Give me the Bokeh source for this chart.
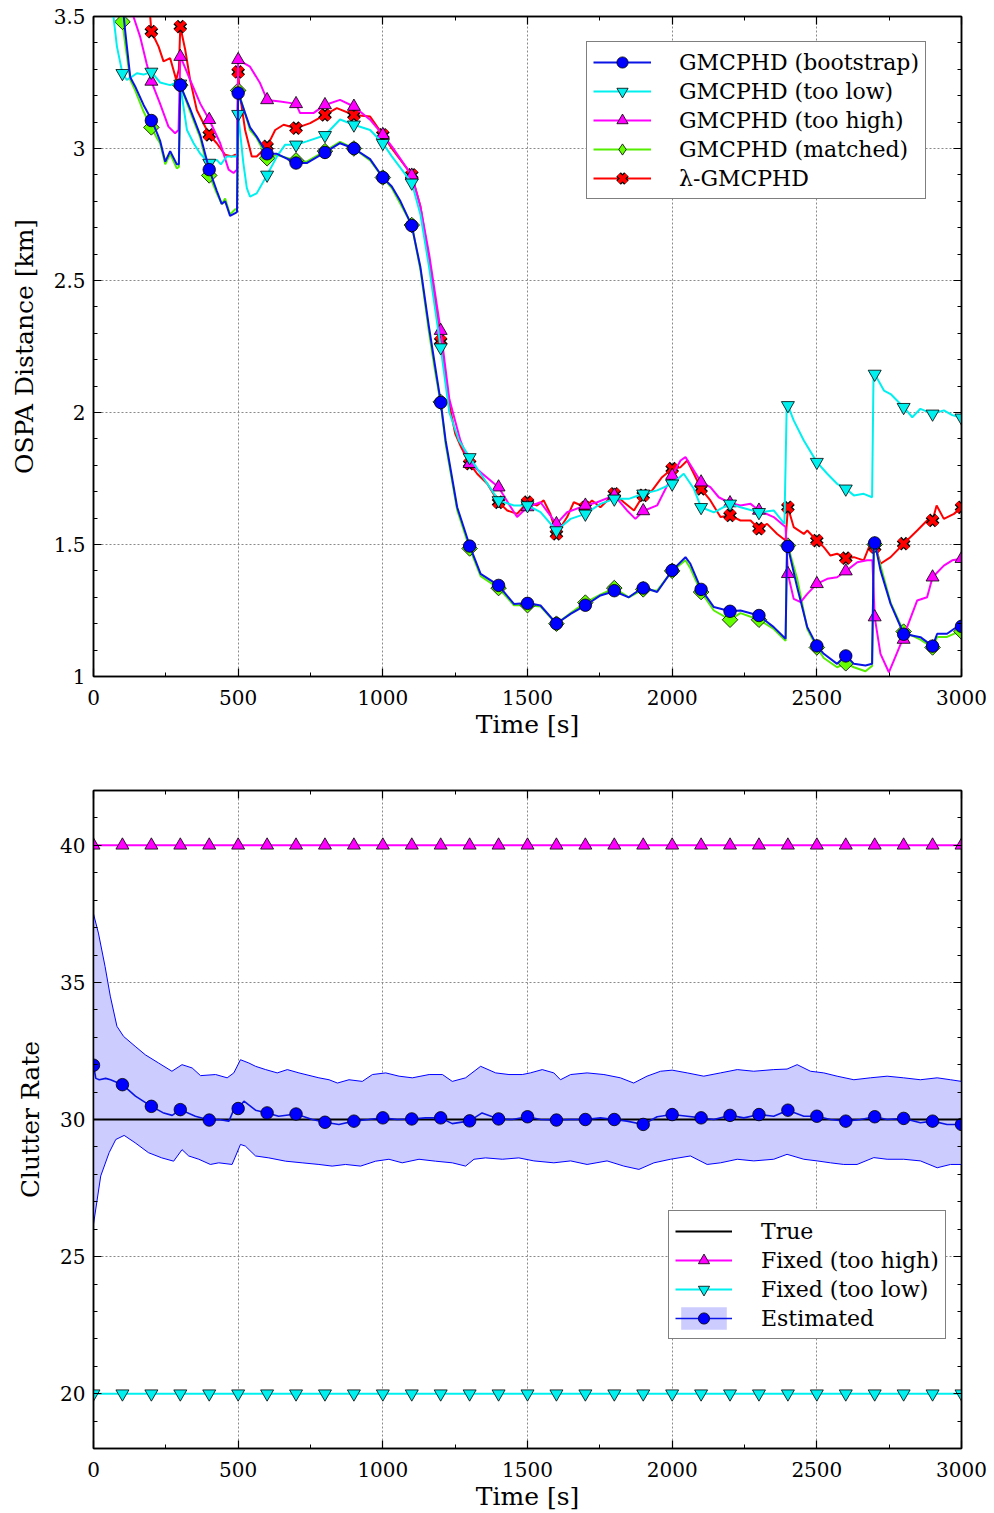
from bokeh.plotting import figure
from bokeh.layouts import column
from bokeh.models import (Range1d, LinearAxis, SingleIntervalTicker, Legend, LegendItem,
                          CustomJSTickFormatter, CustomLabelingPolicy, ColumnDataSource,
                          CDSView, IndexFilter)
from bokeh.embed import file_html
from bokeh.resources import INLINE

FONT = "DejaVu Serif"

# ---------------- top chart data: OSPA distance [km] ----------------
mark_t = [0, 100, 200, 300, 400, 500, 600, 700, 800, 900, 1000, 1100, 1200, 1300, 1400, 1500,
          1600, 1700, 1800, 1900, 2000, 2100, 2200, 2300, 2400, 2500, 2600, 2700, 2800, 2900, 3000]

boot_t = [0, 60, 100, 109, 127, 144, 173, 200, 219, 230, 248, 265, 288, 295, 300, 334, 369, 400,
          426, 443, 455, 472, 490, 496, 500, 541, 564, 600, 634, 700, 737, 800, 852, 900, 956, 1000,
          1031, 1061, 1100, 1130, 1160, 1180, 1200, 1217, 1257, 1300, 1338, 1400, 1453, 1500, 1545,
          1600, 1649, 1700, 1752, 1800, 1850, 1900, 1948, 2000, 2046, 2063, 2100, 2144, 2200, 2236,
          2300, 2351, 2392, 2397, 2400, 2432, 2467, 2500, 2524, 2570, 2600, 2628, 2668, 2691, 2697,
          2700, 2720, 2755, 2800, 2858, 2900, 2916, 2950, 2991, 3000]
boot_v = [4.2, 3.9, 3.55, 3.45, 3.27, 3.235, 3.165, 3.11, 3.06, 3.03, 2.95, 2.99, 2.94, 2.94, 3.24,
          3.15, 3.05, 2.92, 2.84, 2.79, 2.80, 2.745, 2.755, 2.76, 3.21, 3.08, 3.045, 2.98, 2.98,
          2.945, 2.945, 2.985, 3.02, 3.0, 2.96, 2.89, 2.856, 2.80, 2.708, 2.55, 2.32, 2.18, 2.04,
          1.894, 1.641, 1.496, 1.389, 1.345, 1.275, 1.278, 1.269, 1.2, 1.237, 1.269, 1.307, 1.323,
          1.30, 1.338, 1.32, 1.402, 1.452, 1.427, 1.331, 1.263, 1.247, 1.25, 1.231, 1.187, 1.143,
          1.49, 1.49, 1.338, 1.187, 1.117, 1.086, 1.048, 1.08, 1.048, 1.042, 1.048, 1.5, 1.509,
          1.402, 1.275, 1.162, 1.149, 1.115, 1.162, 1.162, 1.193, 1.2]
boot_m = [4.2, 3.6, 3.106, 3.24, 2.92, 3.21, 2.98, 2.945, 2.985, 3.0, 2.89, 2.708, 2.038, 1.494,
          1.345, 1.277, 1.2, 1.27, 1.325, 1.335, 1.402, 1.33, 1.247, 1.231, 1.493, 1.116, 1.078,
          1.506, 1.16, 1.115, 1.19]

match_t = boot_t
match_v = [4.1, 3.75, 3.48, 3.40, 3.26, 3.22, 3.14, 3.08, 3.04, 3.02, 2.94, 2.98, 2.925, 2.93, 3.24,
           3.14, 3.04, 2.90, 2.83, 2.79, 2.81, 2.75, 2.77, 2.77, 3.22, 3.07, 3.04, 2.965, 2.975,
           2.955, 2.95, 2.99, 3.025, 3.0, 2.955, 2.89, 2.85, 2.79, 2.71, 2.54, 2.30, 2.16, 2.035,
           1.88, 1.63, 1.485, 1.38, 1.335, 1.27, 1.27, 1.265, 1.2, 1.24, 1.28, 1.31, 1.335, 1.30,
           1.33, 1.325, 1.40, 1.44, 1.41, 1.32, 1.25, 1.215, 1.24, 1.215, 1.18, 1.135, 1.49, 1.495,
           1.37, 1.18, 1.11, 1.07, 1.035, 1.05, 1.035, 1.02, 1.04, 1.49, 1.50, 1.42, 1.28, 1.17,
           1.14, 1.11, 1.15, 1.15, 1.17, 1.17]
match_m = [4.1, 3.48, 3.08, 3.24, 2.898, 3.22, 2.963, 2.955, 2.99, 3.0, 2.89, 2.71, 2.04, 1.485,
           1.335, 1.27, 1.2, 1.28, 1.335, 1.33, 1.40, 1.32, 1.215, 1.215, 1.496, 1.11, 1.05, 1.50,
           1.17, 1.11, 1.17]

low_t = [0, 40, 69, 81, 100, 115, 130, 150, 173, 200, 230, 265, 288, 300, 323, 346, 369, 400, 426,
         440, 461, 484, 496, 500, 518, 530, 541, 564, 600, 634, 662, 700, 737, 800, 852, 900, 956,
         1000, 1031, 1100, 1130, 1160, 1200, 1230, 1263, 1300, 1338, 1400, 1453, 1500, 1545, 1600,
         1649, 1700, 1752, 1800, 1850, 1900, 1948, 2000, 2040, 2075, 2100, 2144, 2200, 2236, 2300,
         2351, 2388, 2396, 2400, 2420, 2455, 2500, 2536, 2570, 2600, 2628, 2662, 2691, 2696, 2700,
         2732, 2755, 2800, 2830, 2858, 2900, 2939, 2968, 3000]
low_v = [3.9, 3.7, 3.5, 3.386, 3.285, 3.26, 3.27, 3.285, 3.28, 3.29, 3.25, 3.24, 3.25, 3.24, 3.07,
         3.02, 2.98, 2.945, 2.957, 2.94, 2.97, 2.97, 2.97, 3.13, 2.944, 2.85, 2.818, 2.83, 2.90,
         2.97, 3.014, 3.014, 3.027, 3.05, 3.11, 3.09, 3.07, 3.02, 2.97, 2.87, 2.75, 2.55, 2.246,
         2.0, 1.894, 1.83, 1.768, 1.667, 1.648, 1.648, 1.623, 1.553, 1.597, 1.616, 1.654, 1.673,
         1.673, 1.692, 1.705, 1.73, 1.768, 1.711, 1.641, 1.622, 1.654, 1.641, 1.622, 1.629, 1.578,
         2.03, 2.027, 1.97, 1.894, 1.812, 1.768, 1.73, 1.711, 1.686, 1.692, 1.679, 2.15, 2.146,
         2.083, 2.07, 2.02, 1.982, 2.014, 1.995, 2.008, 1.99, 1.98]
low_m = [3.9, 3.285, 3.29, 3.245, 2.945, 3.13, 2.90, 3.014, 3.05, 3.09, 3.02, 2.87, 2.246, 1.83,
         1.667, 1.648, 1.553, 1.616, 1.673, 1.692, 1.73, 1.641, 1.654, 1.622, 2.027, 1.812, 1.711,
         2.146, 2.02, 1.995, 1.98]

high_t = [0, 100, 138, 161, 184, 200, 230, 259, 282, 294, 300, 334, 369, 400, 438, 467, 484, 496,
          500, 541, 576, 600, 645, 700, 714, 760, 800, 852, 900, 956, 1000, 1031, 1100, 1130, 1160,
          1200, 1230, 1268, 1300, 1338, 1400, 1435, 1464, 1500, 1545, 1600, 1637, 1700, 1741, 1800,
          1844, 1873, 1900, 1948, 2000, 2029, 2046, 2075, 2100, 2132, 2161, 2200, 2236, 2271, 2300,
          2351, 2392, 2400, 2420, 2444, 2467, 2500, 2536, 2570, 2600, 2640, 2674, 2692, 2700, 2720,
          2749, 2766, 2800, 2812, 2847, 2881, 2900, 2939, 2968, 3000]
high_v = [4.3, 3.75, 3.5, 3.424, 3.32, 3.254, 3.17, 3.083, 3.058, 3.07, 3.35, 3.26, 3.17, 3.109,
          3.02, 2.92, 2.907, 2.92, 3.336, 3.31, 3.247, 3.184, 3.178, 3.169, 3.134, 3.134, 3.165,
          3.184, 3.159, 3.109, 3.052, 3.008, 2.898, 2.78, 2.6, 2.31, 2.05, 1.894, 1.806, 1.774,
          1.717, 1.654, 1.604, 1.642, 1.66, 1.578, 1.622, 1.648, 1.66, 1.686, 1.629, 1.597, 1.627,
          1.648, 1.761, 1.818, 1.831, 1.78, 1.736, 1.717, 1.679, 1.657, 1.648, 1.654, 1.629, 1.604,
          1.566, 1.389, 1.294, 1.282, 1.313, 1.351, 1.37, 1.376, 1.399, 1.433, 1.44, 1.44, 1.225,
          1.086, 1.016, 1.06, 1.15, 1.187, 1.288, 1.3, 1.376, 1.42, 1.44, 1.446]
high_m = [4.3, 3.75, 3.254, 3.348, 3.109, 3.336, 3.184, 3.169, 3.165, 3.159, 3.052, 2.898, 2.31,
          1.806, 1.717, 1.642, 1.578, 1.648, 1.686, 1.627, 1.761, 1.736, 1.657, 1.629, 1.389,
          1.351, 1.399, 1.225, 1.14, 1.376, 1.446]

lam_t = [0, 150, 196, 200, 225, 242, 265, 286, 295, 300, 317, 334, 357, 400, 426, 455, 478, 496,
         500, 507, 524, 547, 564, 600, 628, 657, 700, 749, 800, 841, 900, 956, 1000, 1031, 1100,
         1130, 1160, 1200, 1230, 1250, 1270, 1300, 1326, 1361, 1400, 1430, 1464, 1500, 1533, 1556,
         1579, 1600, 1637, 1660, 1700, 1723, 1752, 1800, 1833, 1868, 1900, 1931, 1965, 2000, 2029,
         2052, 2075, 2100, 2132, 2167, 2200, 2236, 2271, 2300, 2328, 2363, 2392, 2400, 2420, 2455,
         2467, 2500, 2524, 2547, 2570, 2600, 2628, 2662, 2685, 2703, 2720, 2755, 2800, 2847, 2881,
         2900, 2914, 2939, 2974, 3000]
lam_v = [4.5, 3.75, 3.5, 3.443, 3.386, 3.33, 3.342, 3.26, 3.3, 3.462, 3.374, 3.26, 3.146, 3.052,
         3.02, 2.976, 2.97, 2.98, 3.29, 3.197, 3.07, 2.97, 2.97, 3.008, 3.07, 3.09, 3.077, 3.096,
         3.127, 3.153, 3.127, 3.121, 3.052, 3.0, 2.9, 2.78, 2.58, 2.27, 2.03, 1.92, 1.87, 1.806,
         1.768, 1.73, 1.66, 1.629, 1.616, 1.66, 1.648, 1.667, 1.616, 1.54, 1.604, 1.66, 1.641,
         1.667, 1.641, 1.692, 1.66, 1.629, 1.686, 1.705, 1.755, 1.787, 1.793, 1.818, 1.768, 1.711,
         1.667, 1.604, 1.61, 1.591, 1.591, 1.56, 1.578, 1.54, 1.515, 1.641, 1.566, 1.54, 1.553,
         1.515, 1.49, 1.458, 1.465, 1.448, 1.452, 1.44, 1.503, 1.49, 1.427, 1.452, 1.503, 1.553,
         1.591, 1.591, 1.648, 1.597, 1.616, 1.641]
lam_m = [4.5, 3.8, 3.443, 3.462, 3.052, 3.29, 3.008, 3.077, 3.127, 3.127, 3.052, 2.9, 2.27, 1.806,
         1.66, 1.66, 1.54, 1.641, 1.692, 1.686, 1.787, 1.711, 1.61, 1.56, 1.641, 1.515, 1.448,
         1.49, 1.503, 1.591, 1.641]

# ---------------- bottom chart data: clutter rate ----------------
rate_true = 30
rate_fixed_high = 40
rate_fixed_low = 20

est_t = [0, 8, 20, 42, 59, 100, 145, 200, 240, 272, 300, 352, 400, 433, 468, 485, 500, 520, 560,
         600, 640, 700, 756, 800, 848, 900, 951, 1000, 1050, 1100, 1147, 1200, 1240, 1300, 1343,
         1400, 1447, 1500, 1545, 1600, 1649, 1700, 1752, 1800, 1844, 1900, 1948, 2000, 2052, 2100,
         2144, 2200, 2248, 2300, 2351, 2400, 2455, 2500, 2547, 2600, 2651, 2700, 2743, 2800, 2858,
         2900, 2950, 3000]
est_v = [31.98, 31.5, 31.45, 31.5, 31.45, 31.27, 30.85, 30.48, 30.25, 30.15, 30.36, 30.12, 29.98,
         30.0, 29.94, 30.36, 30.4, 30.67, 30.34, 30.24, 30.12, 30.2, 30.0, 29.9, 29.82, 29.94, 30.0,
         30.06, 30.0, 30.02, 30.06, 30.06, 29.85, 29.95, 30.24, 30.02, 30.0, 30.1, 30.0, 29.98, 30.0,
         30.0, 30.06, 30.0, 29.94, 29.82, 30.1, 30.18, 30.12, 30.06, 30.0, 30.15, 30.06, 30.18,
         30.12, 30.34, 30.12, 30.12, 30.0, 29.94, 30.0, 30.1, 30.0, 30.04, 29.88, 29.94, 29.82,
         29.82]
est_m = [31.98, 31.27, 30.48, 30.36, 29.98, 30.4, 30.24, 30.2, 29.9, 29.94, 30.06, 30.02, 30.06,
         29.95, 30.02, 30.1, 29.98, 30.0, 30.0, 29.82, 30.18, 30.06, 30.15, 30.18, 30.34, 30.12,
         29.94, 30.1, 30.04, 29.94, 29.82]

up_t = [0, 17, 40, 58, 81, 104, 144, 179, 225, 271, 306, 341, 370, 422, 462, 485, 508, 537, 560,
        595, 635, 670, 710, 779, 814, 843, 883, 929, 964, 1010, 1056, 1102, 1160, 1206, 1240, 1286,
        1338, 1390, 1436, 1482, 1510, 1551, 1591, 1614, 1649, 1706, 1764, 1821, 1867, 1913, 1960,
        2000, 2052, 2109, 2167, 2225, 2282, 2351, 2397, 2432, 2478, 2524, 2570, 2628, 2685, 2743,
        2800, 2858, 2916, 2962, 3000]
up_v = [37.5, 36.8, 35.58, 34.5, 33.4, 33.03, 32.67, 32.36, 32.06, 31.76, 32.0, 31.88, 31.6, 31.64,
        31.52, 31.7, 32.18, 32.06, 31.94, 31.82, 31.7, 31.82, 31.7, 31.52, 31.45, 31.33, 31.45,
        31.39, 31.64, 31.7, 31.58, 31.52, 31.64, 31.64, 31.39, 31.52, 31.94, 31.7, 31.64, 31.64,
        31.7, 31.82, 31.7, 31.45, 31.64, 31.7, 31.64, 31.52, 31.33, 31.58, 31.76, 31.8, 31.7, 31.58,
        31.7, 31.82, 31.76, 31.82, 31.84, 32.0, 31.76, 31.7, 31.58, 31.45, 31.52, 31.58, 31.52,
        31.45, 31.52, 31.45, 31.39]

lo_t = [0, 25, 54, 77, 106, 144, 190, 236, 277, 306, 329, 364, 404, 433, 479, 508, 525, 560, 606,
        664, 721, 779, 825, 871, 923, 975, 1021, 1067, 1125, 1182, 1240, 1286, 1315, 1355, 1413,
        1470, 1522, 1591, 1649, 1706, 1775, 1833, 1885, 1937, 1994, 2063, 2121, 2167, 2225, 2282,
        2351, 2397, 2455, 2501, 2547, 2593, 2639, 2697, 2743, 2800, 2858, 2916, 2962, 3000]
lo_v = [26.18, 27.94, 28.79, 29.27, 29.42, 29.15, 28.79, 28.6, 28.48, 28.9, 28.67, 28.55, 28.36,
        28.42, 28.36, 29.09, 29.03, 28.67, 28.6, 28.48, 28.42, 28.36, 28.3, 28.36, 28.3, 28.48,
        28.55, 28.42, 28.55, 28.48, 28.42, 28.3, 28.55, 28.6, 28.55, 28.6, 28.49, 28.42, 28.49,
        28.36, 28.49, 28.3, 28.18, 28.42, 28.55, 28.67, 28.36, 28.42, 28.55, 28.49, 28.55, 28.73,
        28.55, 28.49, 28.42, 28.36, 28.36, 28.61, 28.55, 28.55, 28.49, 28.24, 28.36, 28.36]

BLUE_L = "#0a14e6"
BLUE_M = "#0000ff"
CYAN = "#00f0f0"
MAG = "#ff00ff"
GREEN_L = "#55ee00"
GREEN_M = "#66ff00"
RED = "#ff0000"


def style_axis(ax, labels=True):
    ax.axis_line_color = "black"
    ax.axis_line_width = 1.5
    ax.major_tick_in = 8
    ax.major_tick_out = 0
    ax.minor_tick_in = 4
    ax.minor_tick_out = 0
    ax.major_tick_line_color = "black"
    ax.minor_tick_line_color = "black"
    ax.major_tick_line_width = 1.2
    ax.minor_tick_line_width = 1
    ax.major_label_text_font = FONT
    ax.major_label_text_font_size = "20px"
    ax.major_label_text_color = "black"
    ax.axis_label_text_font = FONT
    ax.axis_label_text_font_size = "25px"
    ax.axis_label_text_font_style = "normal"
    ax.axis_label_text_color = "black"
    if not labels:
        ax.major_label_policy = CustomLabelingPolicy(code="return []")
        ax.major_label_text_font_size = "0px"
        ax.major_label_standoff = 0


def make_fig(height, ymin, ymax, yint, btop, bbot, ylabel, yfmt=None):
    p = figure(width=994, height=height, x_range=Range1d(0, 3000), y_range=Range1d(ymin, ymax),
               output_backend="svg", toolbar_location=None,
               min_border_left=93, min_border_right=33, min_border_top=btop, min_border_bottom=bbot)
    p.background_fill_color = "white"
    p.border_fill_color = "white"
    p.outline_line_color = "black"
    p.outline_line_width = 1.5
    xt = SingleIntervalTicker(interval=500, num_minor_ticks=2)
    yt = SingleIntervalTicker(interval=yint, num_minor_ticks=5)
    p.xaxis[0].ticker = xt
    p.yaxis[0].ticker = yt
    if yfmt is not None:
        p.yaxis[0].formatter = yfmt
    style_axis(p.xaxis[0])
    style_axis(p.yaxis[0])
    p.xaxis[0].axis_label = "Time [s]"
    p.xaxis[0].major_label_standoff = 13
    p.xaxis[0].axis_label_standoff = 2
    p.yaxis[0].axis_label = ylabel
    p.yaxis[0].major_label_standoff = 8
    p.yaxis[0].axis_label_standoff = 12
    ra = LinearAxis(ticker=SingleIntervalTicker(interval=yint, num_minor_ticks=5))
    ta = LinearAxis(ticker=SingleIntervalTicker(interval=500, num_minor_ticks=2))
    style_axis(ra, labels=False)
    style_axis(ta, labels=False)
    p.add_layout(ra, "right")
    p.add_layout(ta, "above")
    for g in (p.xgrid[0], p.ygrid[0]):
        g.grid_line_color = "#8a8a8a"
        g.grid_line_dash = "2 2"
        g.grid_line_width = 1
    return p


def style_legend(lg):
    lg.label_text_font = FONT
    lg.label_text_font_size = "22px"
    lg.label_text_color = "black"
    lg.border_line_color = "black"
    lg.border_line_width = 1
    lg.background_fill_color = "white"
    lg.background_fill_alpha = 1
    lg.glyph_height = 28
    lg.label_height = 28
    lg.spacing = 1
    lg.padding = 6
    lg.margin = 0


# ---------------- top figure ----------------
fmt = CustomJSTickFormatter(code="return String(Math.round(tick*10)/10);")
p1 = make_fig(748, 1, 3.5, 0.5, 16, 72, "OSPA Distance [km]", fmt)

# red (lambda)
l_r = p1.line(lam_t, lam_v, line_color=RED, line_width=2)
m_r1 = p1.scatter(mark_t, lam_m, marker="x", size=13, line_color="black", line_width=6.5)
m_r2 = p1.scatter(mark_t, lam_m, marker="x", size=13, line_color=RED, line_width=4)
# green (matched)
l_g = p1.line(match_t, match_v, line_color=GREEN_L, line_width=2)
m_g = p1.scatter(mark_t, match_m, marker="square", angle=0.785398, size=11, fill_color=GREEN_M,
                 line_color="black", line_width=0.8)
# legend key for the matched markers: same data, only the first (off-range) point kept
match_src = ColumnDataSource(data=dict(t=mark_t, v=match_m))
m_g_key = p1.scatter("t", "v", source=match_src, view=CDSView(filter=IndexFilter([0])),
                     marker="diamond", size=19, fill_color=GREEN_M,
                     line_color="black", line_width=0.8)
# magenta (too high)
l_m = p1.line(high_t, high_v, line_color=MAG, line_width=2)
m_m = p1.scatter(mark_t, high_m, marker="triangle", size=13, fill_color=MAG,
                 line_color="black", line_width=0.8)
# cyan (too low)
l_c = p1.line(low_t, low_v, line_color=CYAN, line_width=2)
m_c = p1.scatter(mark_t, low_m, marker="inverted_triangle", size=13, fill_color=CYAN,
                 line_color="black", line_width=0.8)
# blue (bootstrap)
l_b = p1.line(boot_t, boot_v, line_color=BLUE_L, line_width=2)
m_b = p1.scatter(mark_t, boot_m, marker="circle", size=12.5, fill_color=BLUE_M,
                 line_color="black", line_width=0.8)

leg1 = Legend(items=[
    LegendItem(label="GMCPHD (bootstrap)", renderers=[l_b, m_b]),
    LegendItem(label="GMCPHD (too low)", renderers=[l_c, m_c]),
    LegendItem(label="GMCPHD (too high)", renderers=[l_m, m_m]),
    LegendItem(label="GMCPHD (matched)", renderers=[l_g, m_g_key]),
    LegendItem(label="\u03bb-GMCPHD", renderers=[l_r, m_r1, m_r2]),
], location=(493, 477))
style_legend(leg1)
leg1.glyph_width = 58
leg1.label_standoff = 28
p1.add_layout(leg1, "center")

# ---------------- bottom figure ----------------
p2 = make_fig(765, 18, 42, 5, 42, 64, "Clutter Rate")

band_x = up_t + lo_t[::-1]
band_y = up_v + lo_v[::-1]
b_fill = p2.patch(band_x, band_y, fill_color="#ccccff", fill_alpha=1, line_alpha=0)
p2.line(up_t, up_v, line_color=BLUE_M, line_width=1)
p2.line(lo_t, lo_v, line_color=BLUE_M, line_width=1)

l_true = p2.line([0, 3000], [rate_true, rate_true], line_color="black", line_width=2)
l_est = p2.line(est_t, est_v, line_color=BLUE_L, line_width=1.6)
m_est = p2.scatter(mark_t, est_m, marker="circle", size=12.5, fill_color=BLUE_M,
                   line_color="black", line_width=0.8)

l_hi = p2.line([0, 3000], [rate_fixed_high, rate_fixed_high], line_color=MAG, line_width=2)
m_hi = p2.scatter(mark_t, [rate_fixed_high] * len(mark_t), marker="triangle", size=13,
                  fill_color=MAG, line_color="black", line_width=0.8)
l_lo = p2.line([0, 3000], [rate_fixed_low, rate_fixed_low], line_color=CYAN, line_width=2)
m_lo = p2.scatter(mark_t, [rate_fixed_low] * len(mark_t), marker="inverted_triangle", size=13,
                  fill_color=CYAN, line_color="black", line_width=0.8)

leg2 = Legend(items=[
    LegendItem(label="True", renderers=[l_true]),
    LegendItem(label="Fixed (too high)", renderers=[l_hi, m_hi]),
    LegendItem(label="Fixed (too low)", renderers=[l_lo, m_lo]),
    LegendItem(label="Estimated", renderers=[b_fill, l_est, m_est]),
], location=(575, 109))
style_legend(leg2)
leg2.glyph_width = 57
leg2.label_standoff = 29
p2.add_layout(leg2, "center")

layout = column(p1, p2, spacing=0)
open("out.html", "w").write(file_html(layout, INLINE))
